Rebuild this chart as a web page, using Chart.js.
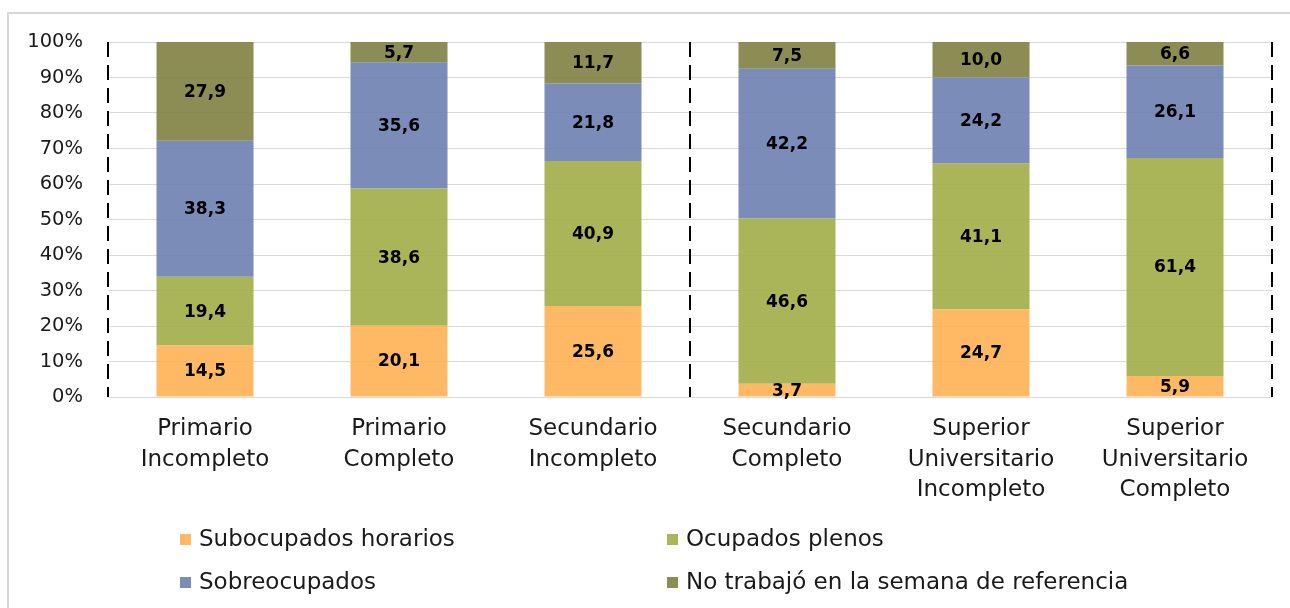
<!DOCTYPE html>
<html>
<head>
<meta charset="utf-8">
<script src="https://cdn.jsdelivr.net/npm/chart.js@4.4.1/dist/chart.umd.min.js"></script>
<style>
  html, body { margin: 0; padding: 0; background: #fff; overflow: hidden; }
  #wrap { width: 1290px; height: 608px; position: relative; }
</style>
</head>
<body>
<div id="wrap"><canvas id="c"></canvas></div>
<script>
// ---- data ----
const categories = [
  ['Primario', 'Incompleto'],
  ['Primario', 'Completo'],
  ['Secundario', 'Incompleto'],
  ['Secundario', 'Completo'],
  ['Superior', 'Universitario', 'Incompleto'],
  ['Superior', 'Universitario', 'Completo']
];
const seriesNames = [
  'Subocupados horarios',
  'Ocupados plenos',
  'Sobreocupados',
  'No trabajó en la semana de referencia'
];
const subocupados   = [14.5, 20.1, 25.6, 3.7, 24.7, 5.9];
const ocupadosPlenos = [19.4, 38.6, 40.9, 46.6, 41.1, 61.4];
const sobreocupados = [38.3, 35.6, 21.8, 42.2, 24.2, 26.1];
const noTrabajo     = [27.9, 5.7, 11.7, 7.5, 10.0, 6.6];
const yTicks = [0, 10, 20, 30, 40, 50, 60, 70, 80, 90, 100];

const FONT = "'DejaVu Sans', sans-serif";
const colors = [
  'rgba(255,177,83,0.9)',
  'rgba(161,173,72,0.9)',
  'rgba(108,127,175,0.9)',
  'rgba(126,129,65,0.9)'
];
const legendColors = ['#FFB964', '#ABB55A', '#7B8CB7', '#8B8E54'];

// ---- plugins ----
const frame = {
  id: 'frame',
  beforeDraw(chart) {
    const ctx = chart.ctx;
    ctx.save();
    ctx.fillStyle = '#d9d9d9';
    ctx.fillRect(7, 12, 2, chart.height - 12);
    ctx.fillRect(7, 12, chart.width - 7, 2);
    ctx.restore();
  }
};

const dashed = {
  id: 'dashed',
  afterDatasetsDraw(chart) {
    const ctx = chart.ctx, a = chart.chartArea, xs = chart.scales.x;
    const mid = (xs.getPixelForValue(2) + xs.getPixelForValue(3)) / 2;
    ctx.save();
    ctx.strokeStyle = '#000';
    ctx.lineWidth = 2;
    ctx.setLineDash([15, 8]);
    [a.left, mid, a.right].forEach(x => {
      ctx.beginPath();
      ctx.moveTo(Math.round(x), a.top);
      ctx.lineTo(Math.round(x), a.bottom);
      ctx.stroke();
    });
    ctx.restore();
  }
};

const valueLabels = {
  id: 'valueLabels',
  afterDatasetsDraw(chart) {
    const ctx = chart.ctx;
    ctx.save();
    ctx.font = "bold 17px " + FONT;
    ctx.fillStyle = '#000';
    ctx.textAlign = 'center';
    ctx.textBaseline = 'middle';
    chart.data.datasets.forEach((ds, i) => {
      const meta = chart.getDatasetMeta(i);
      meta.data.forEach((el, j) => {
        const v = ds.data[j];
        const top = Math.max(el.y, chart.chartArea.top);
        const y = (top + el.base) / 2;
        ctx.fillText(v.toFixed(1).replace('.', ','), el.x, y + 1);
      });
    });
    ctx.restore();
  }
};

const customLegend = {
  id: 'customLegend',
  afterDraw(chart) {
    const ctx = chart.ctx;
    const pos = [[180, 539], [667, 539], [180, 582], [667, 582]];
    ctx.save();
    ctx.font = "23px " + FONT;
    ctx.textBaseline = 'middle';
    ctx.textAlign = 'left';
    chart.data.datasets.forEach((ds, i) => {
      const [x, y] = pos[i];
      ctx.fillStyle = legendColors[i];
      ctx.fillRect(x, y - 5, 11, 11);
      ctx.fillStyle = '#1a1a1a';
      ctx.fillText(ds.label, x + 19, y + 1);
    });
    ctx.restore();
  }
};

const seriesData = [subocupados, ocupadosPlenos, sobreocupados, noTrabajo];

new Chart(document.getElementById('c'), {
  type: 'bar',
  data: {
    labels: categories,
    datasets: seriesNames.map((name, i) => ({
      label: name,
      data: seriesData[i],
      backgroundColor: colors[i],
      borderWidth: 0,
      barPercentage: 0.5,
      categoryPercentage: 1.0
    }))
  },
  options: {
    responsive: true,
    maintainAspectRatio: false,
    animation: false,
    layout: { padding: { top: 42, right: 18, left: 0, bottom: 0 } },
    plugins: {
      legend: { display: false },
      tooltip: { enabled: false }
    },
    scales: {
      x: {
        stacked: true,
        grid: { display: false },
        border: { display: false },
        ticks: {
          color: '#1a1a1a',
          font: { family: FONT, size: 23, lineHeight: 1.33 },
          padding: 9,
          maxRotation: 0,
          autoSkip: false
        },
        afterFit(s) { s.height = 211; }
      },
      y: {
        stacked: true,
        min: 0,
        max: 100,
        afterBuildTicks(s) { s.ticks = yTicks.map(v => ({ value: v })); },
        grid: { color: '#d9d9d9', lineWidth: 1, drawTicks: false },
        border: { display: false },
        ticks: {
          color: '#1a1a1a',
          font: { family: FONT, size: 19.5 },
          padding: 25,
          callback: v => v + '%'
        },
        afterFit(s) { s.width = 108; }
      }
    }
  },
  plugins: [frame, dashed, valueLabels, customLegend]
});
</script>
</body>
</html>
